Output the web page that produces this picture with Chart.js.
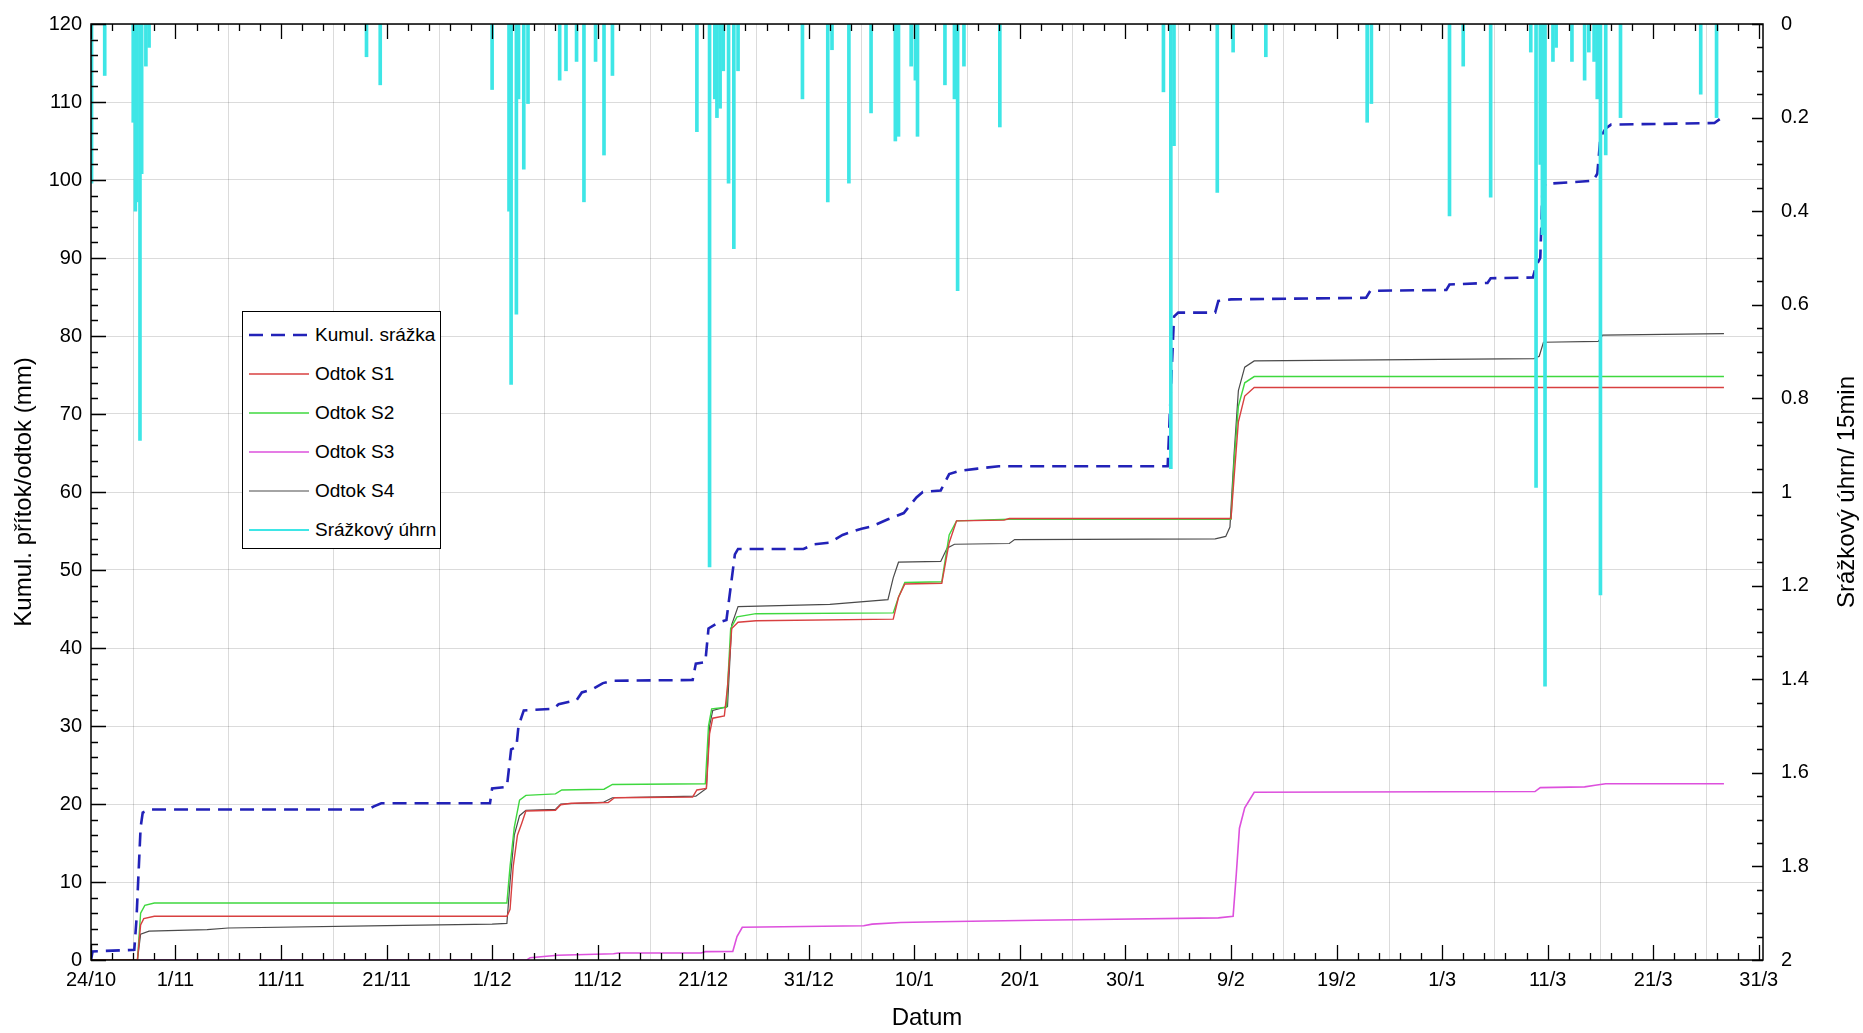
<!DOCTYPE html>
<html lang="cs">
<head>
<meta charset="UTF-8">
<title>Kumulativní srážka a odtok</title>
<script src="https://cdn.jsdelivr.net/npm/chart.js"></script>
<style>
    body { margin: 0; background: #fff; }
    .wrap { position: relative; width: 1863px; height: 1033px; }
    #graf { position: absolute; left: 0; top: 0; }
    #legenda {
        position: absolute; left: 242px; top: 311px;
        width: 197px; height: 236px;
        border: 1.5px solid #000; background: #fff; color: #000;
    }
    #legenda .polozka {
        position: absolute; left: 6px; height: 30px;
        display: flex; align-items: center; white-space: nowrap;
    }
    #legenda svg { margin-right: 6px; }
</style>
</head>
<body>
<div class="wrap">
    <canvas id="graf" width="1863" height="1033"></canvas>
    <div id="legenda"></div>
</div>

<script>
// osa x: dny od 24.10. (den 0)
const xTickDays = [0, 8, 18, 28, 38, 48, 58, 68, 78, 88, 98, 108, 118, 128, 138, 148, 158];
const xTickLabels = ['24/10', '1/11', '11/11', '21/11', '1/12', '11/12', '21/12', '31/12',
                     '10/1', '20/1', '30/1', '9/2', '19/2', '1/3', '11/3', '21/3', '31/3'];

// [den, mm]
const kumulSrazka = [
    [0, 0], [0.15, 1.1], [4.1, 1.3], [4.3, 5], [4.7, 17], [4.9, 18.9], [5.6, 19.3],
    [26.3, 19.3], [26.8, 19.7], [27.5, 20.1], [37.8, 20.1], [38.0, 22.0], [39.4, 22.2],
    [39.8, 27.0], [40.3, 27.3], [40.5, 30.0], [41.0, 32.0], [43.8, 32.2], [44.3, 32.8],
    [46.0, 33.3], [46.5, 34.3], [47.5, 34.7], [48.5, 35.5], [49.5, 35.8], [57.0, 35.9],
    [57.3, 38.0], [58.2, 38.2], [58.5, 42.5], [59.5, 43.3], [60.2, 43.6], [61.0, 52.0],
    [61.3, 52.7], [67.5, 52.7], [68.5, 53.3], [70.0, 53.5], [71.2, 54.5], [73.0, 55.3],
    [74.0, 55.6], [75.5, 56.5], [77.0, 57.3], [78.2, 59.3], [78.8, 60.0], [80.5, 60.2],
    [81.3, 62.3], [82.3, 62.7], [84.0, 63.0], [86.0, 63.3], [102.0, 63.3], [102.3, 73.0],
    [102.6, 82.5], [103.0, 83.0], [106.5, 83.0], [106.8, 84.5], [108.0, 84.7], [120.8, 84.9],
    [121.2, 85.8], [128.4, 85.9], [128.7, 86.6], [132.3, 86.8], [132.6, 87.4], [136.6, 87.5],
    [136.9, 89.0], [137.3, 90.0], [137.5, 98.5], [137.8, 99.5], [142.3, 99.9], [142.7, 100.8],
    [143.0, 105.5], [143.5, 106.6], [144.0, 107.1], [153.8, 107.3], [154.3, 107.8]
];

const odtokS1 = [
    [0, 0], [4.4, 0], [4.7, 4.5], [5.0, 5.3], [6.0, 5.6], [39.4, 5.6], [39.7, 6.5], [40.0, 12],
    [40.4, 16], [40.8, 17.5], [41.2, 19.1], [44.0, 19.2], [44.5, 19.9], [45.5, 20.1], [49.0, 20.2],
    [49.6, 20.8], [57.0, 20.9], [57.4, 21.8], [58.3, 22.0], [58.6, 29.0], [58.9, 31.0], [60.0, 31.3],
    [60.3, 35.0], [60.7, 42.5], [61.3, 43.3], [63.0, 43.5], [76.0, 43.7], [76.5, 46.5], [77.1, 48.2],
    [80.6, 48.3], [81.3, 53.5], [82.0, 56.3], [86.5, 56.4], [87.0, 56.6], [108.0, 56.6],
    [108.3, 62], [108.7, 69], [109.3, 72.3], [110.2, 73.4], [154.7, 73.4]
];

const odtokS2 = [
    [0, 0], [4.4, 0], [4.7, 6.0], [5.1, 7.0], [6.0, 7.3], [39.4, 7.3], [39.7, 12], [40.1, 17],
    [40.6, 20.5], [41.2, 21.1], [44.0, 21.3], [44.6, 21.8], [48.6, 21.9], [49.4, 22.5], [58.2, 22.6],
    [58.5, 30], [58.8, 32.2], [60.2, 32.4], [60.6, 42.5], [61.2, 44.0], [63.0, 44.4], [76.0, 44.5],
    [76.5, 46.5], [77.1, 48.4], [80.6, 48.5], [81.3, 54.5], [82.0, 56.3], [87.0, 56.5], [108.0, 56.5],
    [108.3, 64], [108.7, 71], [109.3, 74.0], [110.2, 74.8], [154.7, 74.8]
];

const odtokS3 = [
    [0, 0], [41.3, 0], [41.6, 0.3], [44.2, 0.6], [49.5, 0.8], [50.0, 0.9], [57.8, 0.9], [58.2, 1.07],
    [60.8, 1.1], [61.2, 3.0], [61.7, 4.2], [73.2, 4.4], [74.0, 4.6], [76.7, 4.8], [80.3, 4.9],
    [89.6, 5.1], [95.1, 5.2], [106.8, 5.4], [108.2, 5.6], [108.5, 11], [108.8, 16.9], [109.3, 19.5],
    [110.2, 21.5], [136.8, 21.6], [137.3, 22.1], [141.5, 22.2], [142.5, 22.4], [143.5, 22.6], [154.7, 22.6]
];

const odtokS4 = [
    [0, 0], [4.4, 0], [4.7, 3.3], [5.5, 3.7], [11, 3.9], [13, 4.1], [28, 4.4], [38, 4.6], [39.4, 4.7],
    [39.7, 10], [40.1, 16], [40.6, 18.5], [41.2, 19.2], [44.0, 19.3], [44.5, 20.0], [48.5, 20.2],
    [49.4, 20.8], [57.3, 21.0], [58.3, 22.0], [58.6, 30], [58.9, 32.0], [60.3, 32.5], [60.7, 43],
    [61.3, 45.3], [70, 45.6], [75.5, 46.2], [76.0, 49], [76.5, 51.0], [80.5, 51.1], [81.1, 52.8],
    [81.8, 53.3], [87.0, 53.4], [87.5, 53.9], [106.5, 54.0], [107.5, 54.3], [107.9, 55.5],
    [108.3, 65], [108.7, 73], [109.3, 76.0], [110.2, 76.8], [136.7, 77.1], [137.2, 77.4],
    [137.6, 79.2], [142.8, 79.3], [143.2, 80.1], [154.7, 80.3]
];

// srážkový úhrn za 15 min [den, mm] (pravá osa)
const srazkaUhrn = [
    [0.05, 0.34], [1.3, 0.11], [4.0, 0.21], [4.2, 0.40], [4.35, 0.38], [4.64, 0.89], [4.8, 0.32],
    [5.2, 0.09], [5.5, 0.05], [26.1, 0.07], [27.4, 0.13], [38.0, 0.14], [39.6, 0.40], [39.8, 0.77],
    [40.3, 0.62], [40.5, 0.16], [41.0, 0.31], [41.4, 0.17], [44.4, 0.12], [45.0, 0.10], [46.0, 0.08],
    [46.7, 0.38], [47.8, 0.08], [48.6, 0.28], [49.4, 0.11], [57.4, 0.23], [58.6, 1.16], [59.1, 0.16],
    [59.3, 0.20], [59.6, 0.18], [59.9, 0.10], [60.4, 0.34], [60.9, 0.48], [61.3, 0.10], [67.4, 0.16],
    [69.8, 0.38], [70.2, 0.055], [71.8, 0.34], [73.9, 0.19], [76.2, 0.25], [76.5, 0.24], [77.7, 0.09],
    [78.1, 0.12], [78.3, 0.24], [80.9, 0.13], [81.8, 0.16], [82.1, 0.57], [82.7, 0.09], [86.1, 0.22],
    [101.6, 0.145], [102.3, 0.95], [102.6, 0.26], [106.7, 0.36], [108.2, 0.06], [111.3, 0.07],
    [120.9, 0.21], [121.3, 0.17], [128.7, 0.41], [130.0, 0.09], [132.6, 0.37], [136.4, 0.06],
    [136.9, 0.99], [137.3, 0.30], [137.5, 0.45], [137.75, 1.415], [138.5, 0.08], [138.8, 0.05],
    [140.3, 0.08], [141.5, 0.12], [141.9, 0.06], [142.4, 0.08], [142.7, 0.16], [143.0, 1.22],
    [143.5, 0.28], [144.9, 0.20], [152.5, 0.15], [154.0, 0.20]
];

const tickFont = { family: '"Liberation Sans", Arial, sans-serif', size: 20 };
const titleFont = { family: '"Liberation Sans", Arial, sans-serif', size: 24 };
const pravyTitulek = 'Srážkový úhrn/ 15min';

const toXY = arr => arr.map(p => ({ x: p[0], y: p[1] }));

// vnitřní tiky, rámeček a titulek pravé osy (čtený zdola nahoru)
const vnitrniTiky = {
    id: 'vnitrniTiky',
    afterDraw(chart) {
        const { ctx, chartArea: a, scales: { x, y, y2 } } = chart;
        ctx.save();
        ctx.strokeStyle = '#000';
        ctx.lineWidth = 1.3;
        ctx.beginPath();
        for (let d = 0; d <= x.max; d += 2) {
            const px = Math.round(x.getPixelForValue(d)) + 0.5;
            const len = xTickDays.includes(d) ? 15 : 7;
            ctx.moveTo(px, a.bottom); ctx.lineTo(px, a.bottom - len);
            ctx.moveTo(px, a.top); ctx.lineTo(px, a.top + len);
        }
        for (let v = 0; v <= 120; v += 2) {
            const py = Math.round(y.getPixelForValue(v)) + 0.5;
            ctx.moveTo(a.left, py); ctx.lineTo(a.left + (v % 10 === 0 ? 15 : 7), py);
        }
        for (let i = 0; i <= 40; i++) {
            const py = Math.round(y2.getPixelForValue(i * 0.05)) + 0.5;
            ctx.moveTo(a.right, py); ctx.lineTo(a.right - (i % 4 === 0 ? 11 : 6), py);
        }
        ctx.stroke();
        ctx.lineWidth = 1.5;
        ctx.strokeRect(a.left, a.top, a.right - a.left, a.bottom - a.top);

        ctx.translate(y2.right - 16, (a.top + a.bottom) / 2);
        ctx.rotate(-Math.PI / 2);
        ctx.fillStyle = '#000';
        ctx.font = `${titleFont.size}px ${titleFont.family}`;
        ctx.textAlign = 'center';
        ctx.textBaseline = 'middle';
        ctx.fillText(pravyTitulek, 0, 0);
        ctx.restore();
    }
};

const mrizka = 'rgba(0,0,0,0.14)';

const chart = new Chart(document.getElementById('graf'), {
    type: 'line',
    data: {
        datasets: [
            { label: 'Srážkový úhrn', type: 'bar', yAxisID: 'y2', data: toXY(srazkaUhrn),
              backgroundColor: '#3ee6e6', barThickness: 3, order: 0 },
            { label: 'Kumul. srážka', yAxisID: 'y', data: toXY(kumulSrazka),
              borderColor: '#2222b8', borderWidth: 2.6, borderDash: [14, 8], order: 1 },
            { label: 'Odtok S1', yAxisID: 'y', data: toXY(odtokS1),
              borderColor: '#d84040', borderWidth: 1.4, order: 2 },
            { label: 'Odtok S2', yAxisID: 'y', data: toXY(odtokS2),
              borderColor: '#3fd83f', borderWidth: 1.4, order: 3 },
            { label: 'Odtok S3', yAxisID: 'y', data: toXY(odtokS3),
              borderColor: '#dd50dd', borderWidth: 1.6, order: 4 },
            { label: 'Odtok S4', yAxisID: 'y', data: toXY(odtokS4),
              borderColor: '#4a4a4a', borderWidth: 1.2, order: 5 }
        ]
    },
    options: {
        responsive: false,
        animation: false,
        devicePixelRatio: 1,
        layout: { padding: { top: 24, left: 0, right: 0, bottom: 0 } },
        elements: { point: { radius: 0 }, line: { tension: 0 } },
        plugins: { legend: { display: false }, tooltip: { enabled: false } },
        scales: {
            x: {
                type: 'linear', min: 0, max: 158.4, offset: false,
                afterBuildTicks: s => { s.ticks = xTickDays.map(v => ({ value: v })); },
                afterFit: s => { s.height = 73; },
                ticks: {
                    autoSkip: false, maxRotation: 0, padding: 8, color: '#000', font: tickFont,
                    callback: v => xTickLabels[xTickDays.indexOf(v)]
                },
                grid: { color: mrizka, drawTicks: false },
                border: { display: false },
                title: { display: true, text: 'Datum', color: '#000', font: titleFont, padding: { top: 0, bottom: 0 } }
            },
            y: {
                position: 'left', min: 0, max: 120,
                afterFit: s => { s.width = 91; },
                ticks: { stepSize: 10, padding: 9, color: '#000', font: tickFont },
                grid: { color: mrizka, drawTicks: false },
                border: { display: false },
                title: { display: true, text: 'Kumul. přítok/odtok (mm)', color: '#000', font: titleFont, padding: { top: 10, bottom: 0 } }
            },
            y2: {
                position: 'right', min: 0, max: 2, reverse: true,
                afterFit: s => { s.width = 100; },
                ticks: { stepSize: 0.2, padding: 10, color: '#000', font: tickFont,
                         callback: v => String(Math.round(v * 10) / 10) },
                grid: { display: false },
                border: { display: false }
            }
        }
    },
    plugins: [vnitrniTiky]
});

// legenda – vlevo uprostřed grafu, pořadí jako v originále
const legenda = document.getElementById('legenda');
legenda.style.fontFamily = tickFont.family;
legenda.style.fontSize = '19px';
const poradi = ['Kumul. srážka', 'Odtok S1', 'Odtok S2', 'Odtok S3', 'Odtok S4', 'Srážkový úhrn'];
poradi.forEach((nazev, i) => {
    const ds = chart.data.datasets.find(d => d.label === nazev);
    const barva = ds.borderColor || ds.backgroundColor;
    const sirka = ds.type === 'bar' ? 2 : ds.borderWidth;
    const carka = ds.borderDash ? `stroke-dasharray="${ds.borderDash.join(' ')}"` : '';
    const el = document.createElement('div');
    el.className = 'polozka';
    el.style.top = (8 + i * 39) + 'px';
    el.innerHTML = `<svg width="60" height="8"><line x1="0" y1="4" x2="60" y2="4" stroke="${barva}" stroke-width="${sirka}" ${carka}/></svg><span>${nazev}</span>`;
    legenda.appendChild(el);
});
</script>
</body>
</html>
